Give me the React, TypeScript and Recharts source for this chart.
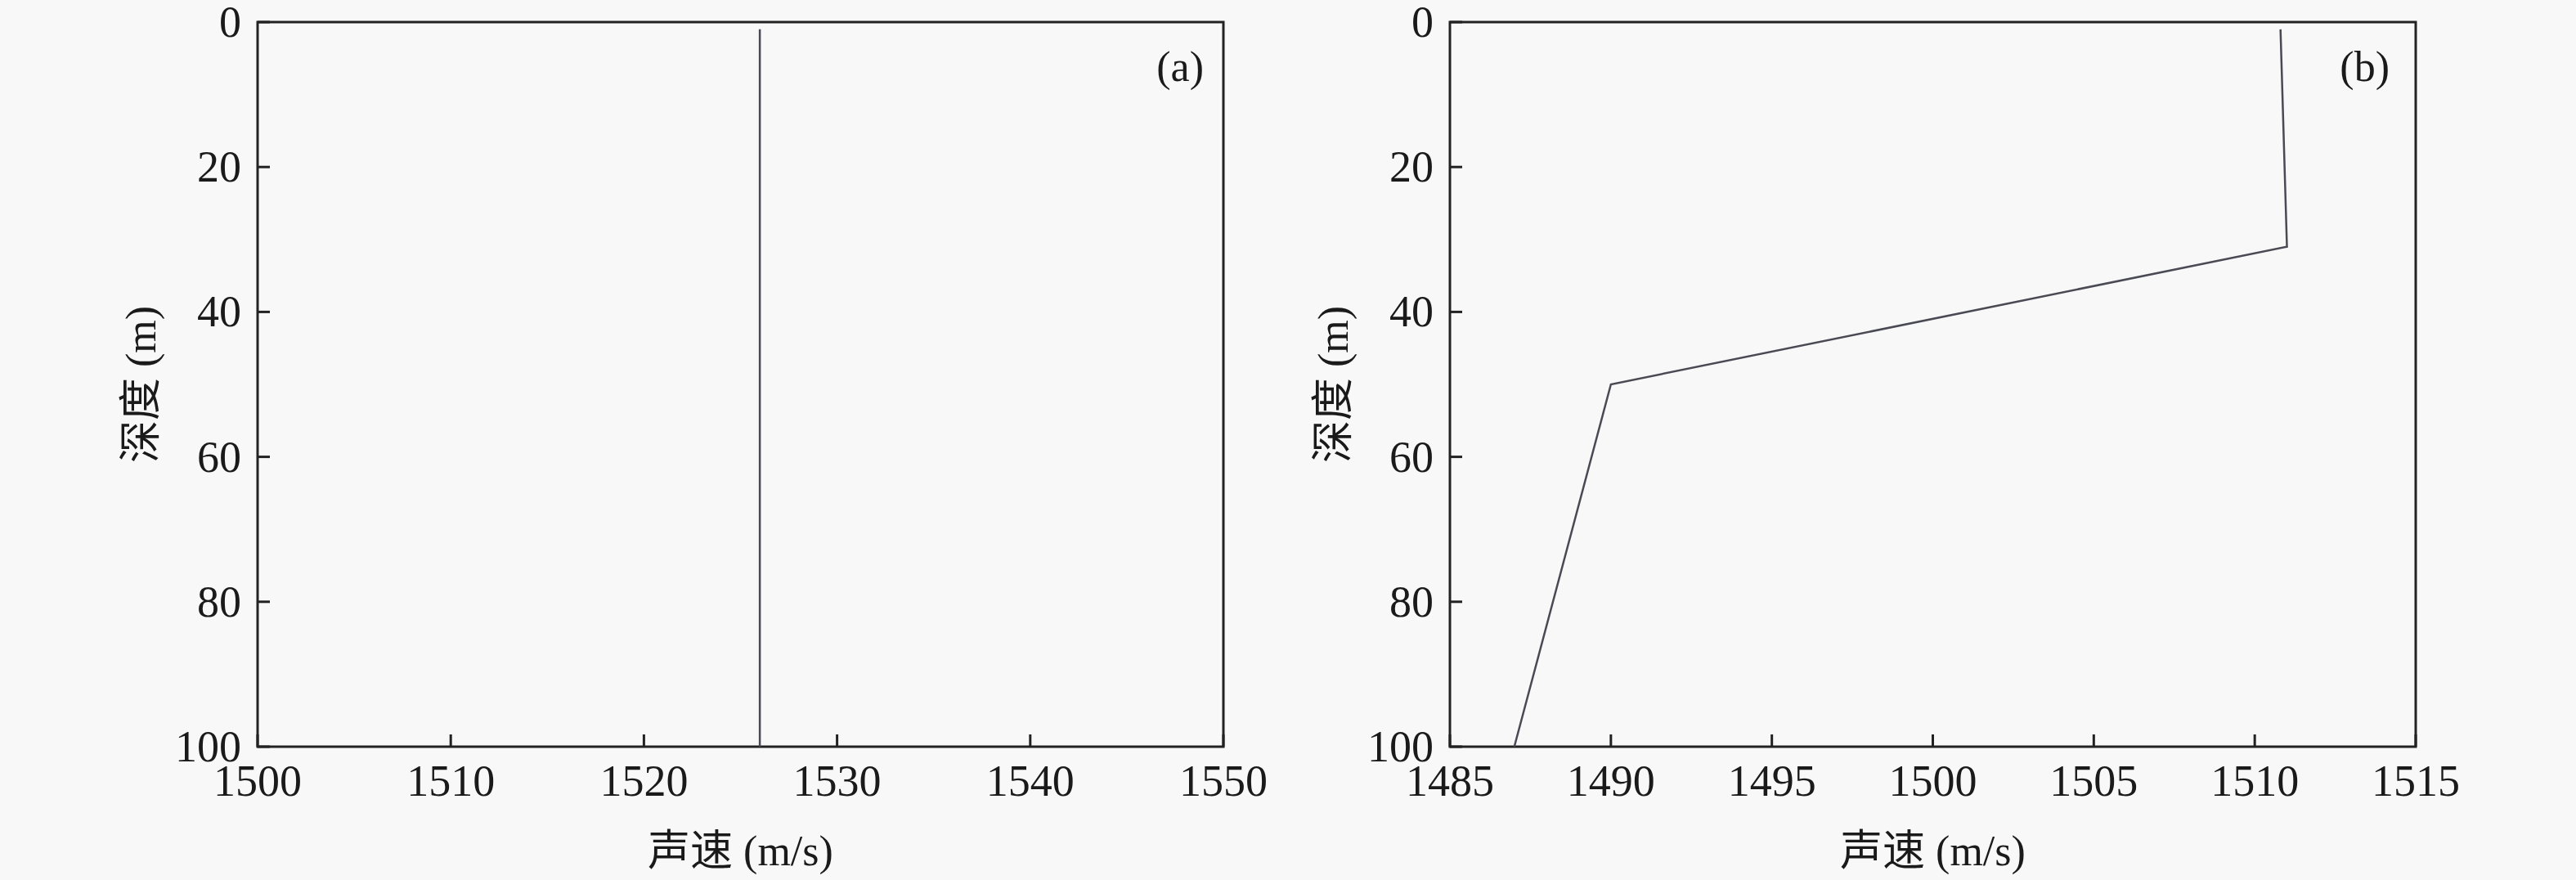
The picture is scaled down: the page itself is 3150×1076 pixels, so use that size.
import React from "react";
import { LineChart, Line, XAxis, YAxis, ReferenceArea } from "recharts";

// ---- data ----
const depthTicks = [0, 20, 40, 60, 80, 100];

const speedTicksA = [1500, 1510, 1520, 1530, 1540, 1550];
const depthA = [1, 100];
const speedA = [1526, 1526];

const speedTicksB = [1485, 1490, 1495, 1500, 1505, 1510, 1515];
const depthB = [1, 31, 50, 100];
const speedB = [1510.8, 1511, 1490, 1487];

const xLabel = "声速 (m/s)";
const yLabel = "深度 (m)";

const FONT = "'Liberation Serif', 'Times New Roman', 'Noto Sans CJK SC', serif";
const INK = "#1a1a1a";
const FRAME = "#222222";
const LINE = "#4a4a55";
const TICK_FS = 54;
const LABEL_FS = 52;

const YTick = (props: any) => {
  const { x, y, payload } = props;
  return (
    <g>
      <line x1={x + 20} x2={x + 35} y1={y} y2={y} stroke={FRAME} strokeWidth={3} />
      <text x={x} y={y} textAnchor="end" dominantBaseline="central" fontFamily={FONT} fontSize={TICK_FS} fill={INK}>
        {payload.value}
      </text>
    </g>
  );
};

const XTick = (props: any) => {
  const { x, y, payload } = props;
  return (
    <g>
      <line x1={x} x2={x} y1={y - 22} y2={y - 37} stroke={FRAME} strokeWidth={3} />
      <text x={x} y={y} dy="0.71em" textAnchor="middle" fontFamily={FONT} fontSize={TICK_FS} fill={INK}>
        {payload.value}
      </text>
    </g>
  );
};

const YAxisLabel = (props: any) => {
  const vb = props.viewBox || {};
  const cx = vb.x + vb.width - 143;
  const cy = vb.y + vb.height / 2;
  return (
    <text
      x={cx}
      y={cy}
      transform={`rotate(-90 ${cx} ${cy})`}
      textAnchor="middle"
      dominantBaseline="central"
      fontFamily={FONT}
      fontSize={LABEL_FS}
      fill={INK}
    >
      {yLabel}
    </text>
  );
};

const XAxisLabel = (props: any) => {
  const vb = props.viewBox || {};
  const cx = vb.x + vb.width / 2;
  const cy = vb.y + 127;
  return (
    <text x={cx} y={cy} textAnchor="middle" dominantBaseline="central" fontFamily={FONT} fontSize={LABEL_FS} fill={INK}>
      {xLabel}
    </text>
  );
};

const makePanelLabel = (txt: string, dxRight: number) => (props: any) => {
  const vb = props.viewBox || {};
  return (
    <text x={vb.x + vb.width - dxRight} y={vb.y + 72} textAnchor="end" fontFamily={FONT} fontSize={LABEL_FS} fill={INK}>
      {txt}
    </text>
  );
};

type PanelProps = {
  speeds: number[];
  depths: number[];
  ticks: number[];
  tag: string;
  yAxisWidth: number;
  rightMargin: number;
  tagOffset: number;
};

const Panel = ({ speeds, depths, ticks, tag, yAxisWidth, rightMargin, tagOffset }: PanelProps) => {
  const data = depths.map((d, i) => ({ speed: speeds[i], depth: d }));
  const xDomain: [number, number] = [ticks[0], ticks[ticks.length - 1]];
  return (
    <LineChart width={1575} height={1076} data={data} margin={{ top: 27, right: rightMargin, bottom: 0, left: 0 }}>
      <XAxis
        dataKey="speed"
        type="number"
        domain={xDomain}
        ticks={ticks}
        interval={0}
        allowDataOverflow
        axisLine={false}
        tickLine={false}
        tickSize={0}
        tickMargin={22}
        height={163}
        tick={<XTick />}
        label={<XAxisLabel />}
      />
      <YAxis
        type="number"
        domain={[0, 100]}
        ticks={depthTicks}
        interval={0}
        reversed
        allowDataOverflow
        axisLine={false}
        tickLine={false}
        tickSize={0}
        tickMargin={20}
        width={yAxisWidth}
        tick={<YTick />}
        label={<YAxisLabel />}
      />
      <ReferenceArea
        x1={xDomain[0]}
        x2={xDomain[1]}
        y1={0}
        y2={100}
        fill="none"
        fillOpacity={0}
        stroke={FRAME}
        strokeWidth={3}
        ifOverflow="visible"
        label={makePanelLabel(tag, tagOffset)}
      />
      <Line
        type="linear"
        dataKey="depth"
        stroke={LINE}
        strokeWidth={2.5}
        dot={false}
        activeDot={false}
        isAnimationActive={false}
      />
    </LineChart>
  );
};

export default function App() {
  return (
    <div
      style={{
        position: "absolute",
        left: 0,
        top: 0,
        width: 3150,
        height: 1076,
        background: "#f8f8f8",
        display: "flex",
        overflow: "hidden",
      }}
    >
      <Panel speeds={speedA} depths={depthA} ticks={speedTicksA} tag="(a)" yAxisWidth={315} rightMargin={79} tagOffset={24} />
      <Panel speeds={speedB} depths={depthB} ticks={speedTicksB} tag="(b)" yAxisWidth={198} rightMargin={196} tagOffset={32} />
    </div>
  );
}
